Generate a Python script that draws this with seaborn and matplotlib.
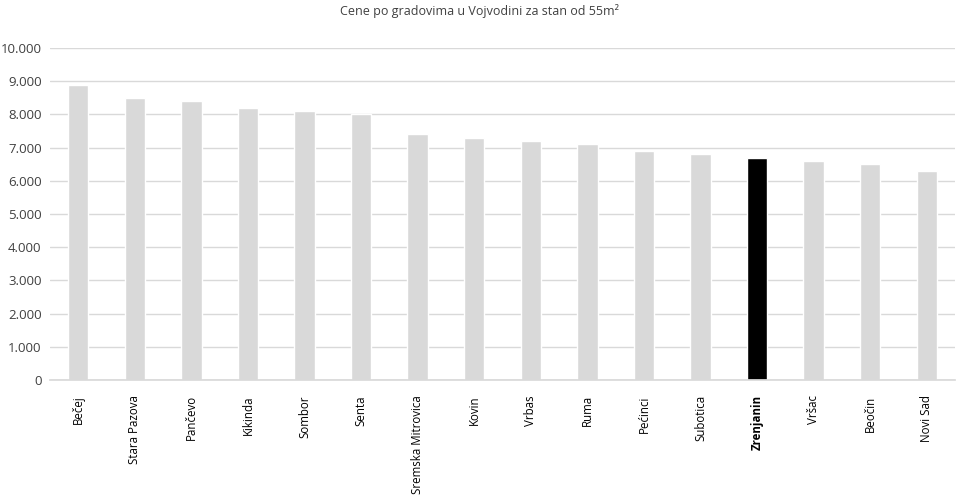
import matplotlib
matplotlib.use("Agg")
import matplotlib.pyplot as plt
import seaborn as sns
import pandas as pd
from matplotlib.ticker import FuncFormatter, MultipleLocator

# Data
gradovi = ['Bečej', 'Stara Pazova', 'Pančevo', 'Kikinda', 'Sombor', 'Senta',
           'Sremska Mitrovica', 'Kovin', 'Vrbas', 'Ruma', 'Pećinci', 'Subotica',
           'Zrenjanin', 'Vršac', 'Beočin', 'Novi Sad']
cene = [8900, 8500, 8400, 8200, 8100, 8000, 7400, 7300, 7200, 7100,
        6900, 6800, 6700, 6600, 6500, 6300]
istaknut = 'Zrenjanin'

df = pd.DataFrame({'grad': gradovi, 'cena': cene})
boje = {g: ('#000000' if g == istaknut else '#d9d9d9') for g in gradovi}

sns.set_theme(style='white')
plt.rcParams['font.family'] = ['Open Sans', 'DejaVu Sans']

fig = plt.figure(figsize=(9.6, 5), dpi=100)
ax = fig.add_axes([50 / 960, 1 - 380 / 500, 905 / 960, 332 / 500])

sns.barplot(data=df, x='grad', y='cena', hue='grad', palette=boje,
            width=0.36, legend=False, ax=ax, saturation=1)

ax.set_ylim(0, 10000)
ax.set_xlim(-0.5, len(gradovi) - 0.5)
ax.yaxis.set_major_locator(MultipleLocator(1000))
ax.yaxis.set_major_formatter(FuncFormatter(lambda v, p: f'{int(v):,}'.replace(',', '.')))
ax.grid(axis='y', color='#d9d9d9', linewidth=1)
ax.set_axisbelow(True)
for s in ['top', 'right', 'left']:
    ax.spines[s].set_visible(False)
ax.spines['bottom'].set_color('#d9d9d9')
ax.tick_params(axis='y', labelsize=9.5, colors='#404040', length=0, pad=6)
ax.tick_params(axis='x', labelsize=8.3, colors='#000000', length=0, pad=11)
plt.setp(ax.get_xticklabels(), rotation=90, va='top', ha='center')
for lbl in ax.get_xticklabels():
    if lbl.get_text() == istaknut:
        lbl.set_fontweight('bold')
ax.set_xlabel('')
ax.set_ylabel('')

fig.text(0.5, 1 - 11 / 500, 'Cene po gradovima u Vojvodini za stan od 55m²',
         ha='center', va='center', fontsize=9, color='#404040')

fig.savefig('out.png', dpi=100)
